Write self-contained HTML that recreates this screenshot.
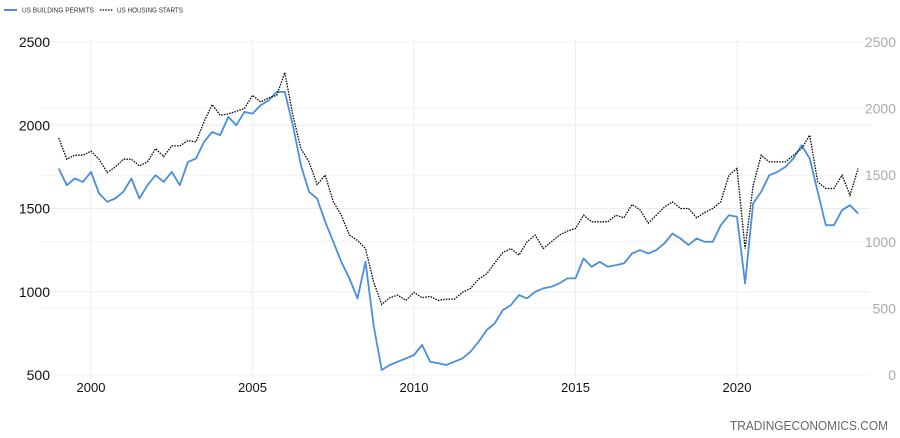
<!DOCTYPE html>
<html><head><meta charset="utf-8"><style>
body{margin:0;background:#fff;font-family:"Liberation Sans",sans-serif}
svg{display:block}
</style></head><body>
<svg id="chart" width="900" height="438">
<g id="grid"></g>
<g id="axes"></g>
<g id="series"></g>
<g>
 <line x1="4" y1="10" x2="17" y2="10" stroke="#4a8fdb" stroke-width="2"/>
 <text x="22" y="12.5" font-size="7" fill="#333" textLength="72" lengthAdjust="spacingAndGlyphs">US BUILDING PERMITS</text>
 <line x1="100" y1="10" x2="113" y2="10" stroke="#000" stroke-width="1.2" stroke-dasharray="1.5,1.2"/>
 <text x="117" y="12.5" font-size="7" fill="#333" textLength="66" lengthAdjust="spacingAndGlyphs">US HOUSING STARTS</text>
</g>
<text x="888" y="430" font-size="12.5" fill="#666" text-anchor="end" textLength="158" lengthAdjust="spacingAndGlyphs">TRADINGECONOMICS.COM</text>
</svg>
<script>
const years=[2000,2005,2010,2015,2020];
const leftTicks=[500,1000,1500,2000,2500];
const rightTicks=[0,500,1000,1500,2000,2500];
const permits=[1740,1640,1680,1660,1720,1590,1540,1560,1600,1680,1560,1640,1700,1660,1720,1640,1780,1800,1900,1960,1940,2050,2000,2080,2070,2120,2150,2200,2200,2000,1760,1600,1560,1420,1300,1180,1080,960,1180,800,530,560,580,600,620,680,580,570,560,580,600,640,700,770,810,890,920,980,960,1000,1020,1030,1050,1080,1080,1200,1150,1180,1150,1160,1170,1230,1250,1230,1250,1290,1350,1320,1280,1320,1300,1300,1400,1460,1450,1050,1530,1600,1700,1720,1750,1800,1880,1800,1600,1400,1400,1490,1520,1470];
const starts=[1780,1620,1650,1650,1680,1620,1520,1560,1620,1620,1570,1600,1700,1640,1720,1720,1760,1750,1900,2030,1950,1960,1980,2000,2100,2050,2080,2100,2270,1950,1700,1600,1430,1500,1300,1200,1050,1010,950,700,530,580,600,560,620,580,590,560,570,570,620,650,720,760,840,920,950,900,1000,1050,950,1000,1050,1080,1100,1200,1150,1150,1150,1200,1180,1280,1240,1140,1200,1260,1300,1250,1250,1180,1220,1250,1300,1500,1550,950,1420,1650,1600,1600,1600,1650,1700,1800,1450,1400,1400,1500,1350,1550];
const startYear=1999;
const NS="http://www.w3.org/2000/svg";
const X=t=>91+(t-2000)*32.3;
const YL=v=>375-(v-500)*(333/2000);
const YR=v=>375-v*(333/2500);
function mk(tag,attrs,parent){const e=document.createElementNS(NS,tag);for(const k in attrs)e.setAttribute(k,attrs[k]);parent.appendChild(e);return e;}
const grid=document.getElementById('grid'),axes=document.getElementById('axes'),ser=document.getElementById('series');
leftTicks.forEach(v=>{
 const l=mk('line',{x1:40,x2:870,y1:YL(v),y2:YL(v),stroke:'#ececec','stroke-width':1},grid);
 
 
 const t=mk('text',{x:50,y:YL(v)+5,'font-size':14,fill:'#111','text-anchor':'end'},axes);t.textContent=v;
 
 
});
rightTicks.forEach(v=>{
 const l=mk('line',{x1:40,x2:870,y1:YR(v),y2:YR(v),stroke:'#f2f2f2','stroke-width':1},grid);
 
 
 const t=mk('text',{x:896,y:YR(v)+5,'font-size':14,fill:'#aaa','text-anchor':'end'},axes);t.textContent=v;
 
 
});
years.forEach(y=>{
 const l=mk('line',{x1:X(y),x2:X(y),y1:40,y2:378,stroke:'#eeeeee','stroke-width':1},grid);
 
 
 const t=mk('text',{x:X(y),y:392,'font-size':13,fill:'#111','text-anchor':'middle'},axes);t.textContent=y;
 
 
});
function path(arr,Y){return arr.map((v,i)=>(i?'L':'M')+X(startYear+i*25/arr.length).toFixed(1)+','+Y(v).toFixed(1)).join('');}
const p1=mk('path',{d:path(permits,YL),fill:'none',stroke:'#4a8fdb','stroke-width':1.8,'stroke-linejoin':'round'},ser);


const p2=mk('path',{d:path(starts,YR),fill:'none',stroke:'#000','stroke-width':1.3,'stroke-dasharray':'1.5,1.2'},ser);


</script>
</body></html>
